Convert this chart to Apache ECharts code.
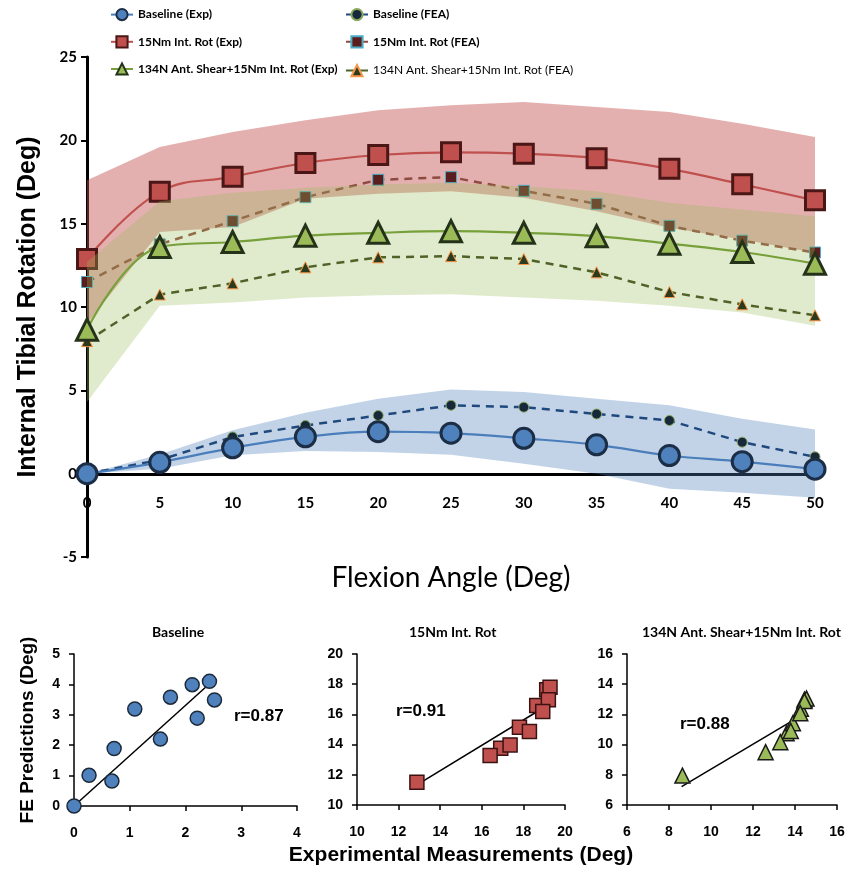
<!DOCTYPE html>
<html>
<head>
<meta charset="utf-8">
<title>Internal tibial rotation</title>
<script src="https://cdn.jsdelivr.net/npm/echarts@6/dist/echarts.min.js"></script>
<style>
  html, body { margin: 0; padding: 0; background: #fff; }
  #chart { width: 849px; height: 873px; }
</style>
</head>
<body>
<div id="chart"></div>
<script>
  // flexion angles (deg)
  var flexion = [0, 5, 10, 15, 20, 25, 30, 35, 40, 45, 50];

  // internal tibial rotation (deg), mean curves
  var baseExp = [0, 0.68, 1.55, 2.21, 2.52, 2.43, 2.12, 1.73, 1.09, 0.72, 0.27];
  var baseFea = [0, 0.82, 2.2, 2.89, 3.49, 4.1, 3.99, 3.58, 3.19, 1.89, 1.01];
  var rotExp = [12.88, 16.91, 17.81, 18.64, 19.12, 19.28, 19.2, 18.93, 18.29, 17.36, 16.4];
  var rotFea = [11.5, 13.76, 15.15, 16.59, 17.63, 17.79, 16.97, 16.19, 14.87, 13.98, 13.27];
  var shearExp = [8.64, 13.6, 13.9, 14.28, 14.45, 14.55, 14.45, 14.25, 13.8, 13.3, 12.6];
  var shearFea = [7.95, 10.75, 11.42, 12.38, 12.98, 13.05, 12.88, 12.08, 10.9, 10.16, 9.5];

  // experimental spread (shaded bands)
  var baseUpper = [0, 1.15, 2.6, 3.65, 4.5, 5.05, 4.9, 4.5, 4.1, 3.3, 2.65];
  var baseLower = [0, 0.3, 1.1, 1.36, 1.3, 1.14, 0.6, 0, -0.9, -1.14, -1.45];
  var rotUpper = [17.6, 19.6, 20.5, 21.2, 21.8, 22.1, 22.3, 22.0, 21.7, 21.0, 20.2];
  var rotLower = [9.0, 14.5, 14.8, 16.5, 16.8, 16.95, 16.55, 15.75, 14.75, 14.05, 13.26];
  var shearUpper = [12.7, 16.35, 16.85, 17.15, 17.35, 17.45, 17.25, 16.95, 16.25, 15.85, 15.45];
  var shearLower = [4.3, 10.07, 10.27, 10.57, 10.7, 10.77, 10.57, 10.37, 10.07, 9.67, 8.87];

  // fitted lines of the correlation plots (end points)
  var baseFitX = [0, 2.41];
  var baseFitY = [0, 3.99];
  var rotFitX = [12.88, 19.2];
  var rotFitY = [11.33, 16.64];
  var shearFitX = [8.6, 14.09];
  var shearFitY = [7.22, 11.75];

  var labelFont = 'Lato';
  var arial = '"Liberation Sans", Arial, sans-serif';

  function pairs(xs, ys) {
    return xs.map(function (x, i) { return [x, ys[i]]; });
  }

  // shaded band between low and up, one polygon through the axis scales
  function band(up, low, color, z) {
    return {
      type: 'custom', z: z, silent: true,
      data: flexion.map(function (x, i) { return [x, low[i], up[i]]; }),
      encode: { x: 0, y: [1, 2] },
      renderItem: function (params, api) {
        if (params.dataIndex !== 0) return null;
        var pts = [];
        for (var i = 0; i < flexion.length; i++) pts.push(api.coord([flexion[i], up[i]]));
        for (var j = flexion.length - 1; j >= 0; j--) pts.push(api.coord([flexion[j], low[j]]));
        return { type: 'polygon', shape: { points: pts }, style: { fill: color } };
      }
    };
  }

  var myChart = echarts.init(document.getElementById('chart'));

  var series = [
    band(rotUpper, rotLower, 'rgba(192,80,77,0.45)', 2),
    {
      type: 'line', name: '15Nm Int. Rot (FEA)', z: 2, data: pairs(flexion, rotFea),
      symbol: 'rect', symbolSize: 11,
      lineStyle: { color: '#8e4a40', width: 2.5, type: [8, 6] },
      itemStyle: { color: '#5a1e1e', borderColor: '#4bacc6', borderWidth: 1 }
    },
    {
      type: 'line', name: '15Nm Int. Rot (Exp)', z: 2, data: pairs(flexion, rotExp),
      smooth: 0.4, symbol: 'rect', symbolSize: 19,
      lineStyle: { color: '#c0504d', width: 2.2 },
      itemStyle: { color: '#c0504d', borderColor: '#4a1616', borderWidth: 3 }
    },
    band(shearUpper, shearLower, 'rgba(155,187,89,0.31)', 3),
    {
      type: 'line', name: '134N Ant. Shear+15Nm Int. Rot (FEA)', z: 3, data: pairs(flexion, shearFea),
      symbol: 'triangle', symbolSize: 11,
      lineStyle: { color: '#4f6228', width: 2.5, type: [8, 6] },
      itemStyle: { color: '#2c3a1e', borderColor: '#f79646', borderWidth: 1 }
    },
    {
      type: 'line', name: '134N Ant. Shear+15Nm Int. Rot (Exp)', z: 3, data: pairs(flexion, shearExp),
      smooth: 0.4, symbol: 'triangle', symbolSize: 21,
      lineStyle: { color: '#77a03a', width: 2.2 },
      itemStyle: { color: '#9bbb59', borderColor: '#25321a', borderWidth: 3 }
    },
    band(baseUpper, baseLower, 'rgba(79,129,189,0.35)', 4),
    {
      type: 'line', name: 'Baseline (FEA)', z: 4, data: pairs(flexion, baseFea),
      symbol: 'circle', symbolSize: 10,
      lineStyle: { color: '#1f497d', width: 2.5, type: [8, 6] },
      itemStyle: { color: '#17283b', borderColor: '#8aa860', borderWidth: 1 }
    },
    {
      type: 'line', name: 'Baseline (Exp)', z: 4, data: pairs(flexion, baseExp),
      smooth: 0.4, symbol: 'circle', symbolSize: 20,
      lineStyle: { color: '#4a7ebb', width: 2.2 },
      itemStyle: { color: '#4f81bd', borderColor: '#1c2e45', borderWidth: 3 }
    },
    // correlation plots
    {
      type: 'scatter', xAxisIndex: 1, yAxisIndex: 1, data: pairs(baseExp, baseFea),
      symbol: 'circle', symbolSize: 14, z: 5,
      itemStyle: { color: '#4f81bd', borderColor: '#1d2a3a', borderWidth: 1.5, opacity: 1 }
    },
    {
      type: 'line', xAxisIndex: 1, yAxisIndex: 1, data: pairs(baseFitX, baseFitY),
      symbol: 'none', z: 4, lineStyle: { color: '#000', width: 1.5 }
    },
    {
      type: 'scatter', xAxisIndex: 2, yAxisIndex: 2, data: pairs(rotExp, rotFea),
      symbol: 'rect', symbolSize: 14, z: 5,
      itemStyle: { color: '#c0504d', borderColor: '#3b1212', borderWidth: 1.5, opacity: 1 }
    },
    {
      type: 'line', xAxisIndex: 2, yAxisIndex: 2, data: pairs(rotFitX, rotFitY),
      symbol: 'none', z: 4, lineStyle: { color: '#000', width: 1.5 }
    },
    {
      type: 'scatter', xAxisIndex: 3, yAxisIndex: 3, data: pairs(shearExp, shearFea),
      symbol: 'triangle', symbolSize: 15, z: 5,
      itemStyle: { color: '#9bbb59', borderColor: '#1a1a1a', borderWidth: 1.5, opacity: 1 }
    },
    {
      type: 'line', xAxisIndex: 3, yAxisIndex: 3, data: pairs(shearFitX, shearFitY),
      symbol: 'none', z: 4, lineStyle: { color: '#000', width: 1.5 }
    }
  ];

  var legendText = { fontFamily: labelFont, fontWeight: 'bold', fontSize: 12, color: '#000' };

  function smallX(idx, min, max, interval, extra) {
    return Object.assign({
      type: 'value', gridIndex: idx, min: min, max: max, interval: interval,
      axisLine: { onZero: false, lineStyle: { color: '#000', width: 1.5 } },
      axisTick: { show: true, length: 5, lineStyle: { color: '#000', width: 1.5 } },
      axisLabel: { color: '#000', fontFamily: arial, fontWeight: 'bold', fontSize: 14, margin: 20 },
      splitLine: { show: false }
    }, extra || {});
  }
  function smallY(idx, min, max, interval, extra) {
    return Object.assign({
      type: 'value', gridIndex: idx, min: min, max: max, interval: interval,
      axisLine: { show: true, onZero: false, lineStyle: { color: '#000', width: 1.5 } },
      axisTick: { show: true, length: 5, lineStyle: { color: '#000', width: 1.5 } },
      axisLabel: { color: '#000', fontFamily: arial, fontWeight: 'bold', fontSize: 14, margin: 14 },
      splitLine: { show: false }
    }, extra || {});
  }

  myChart.setOption({
    animation: false,
    legend: [
      {
        left: 110, top: 8, orient: 'vertical', padding: 0, itemGap: 14,
        itemWidth: 22, itemHeight: 14, selectedMode: false, textStyle: legendText,
        data: ['Baseline (Exp)', '15Nm Int. Rot (Exp)', '134N Ant. Shear+15Nm Int. Rot (Exp)']
      },
      {
        left: 345, top: 8, orient: 'vertical', padding: 0, itemGap: 14,
        itemWidth: 22, itemHeight: 14, selectedMode: false, textStyle: legendText,
        data: ['Baseline (FEA)', '15Nm Int. Rot (FEA)']
      },
      {
        left: 345, top: 64, orient: 'vertical', padding: 0,
        itemWidth: 22, itemHeight: 14, selectedMode: false,
        textStyle: { fontFamily: labelFont, fontSize: 12, color: '#000' },
        data: ['134N Ant. Shear+15Nm Int. Rot (FEA)']
      }
    ],
    grid: [
      { left: 87, top: 57, width: 728, height: 500 },
      { left: 74, top: 654, width: 223, height: 152 },
      { left: 357, top: 654, width: 208, height: 151 },
      { left: 627, top: 654, width: 210, height: 151 }
    ],
    xAxis: [
      {
        // drawn along the zero line: offset from the grid bottom (value -5) up to 0
        type: 'value', gridIndex: 0, min: 0, max: 50, interval: 5, offset: -83,
        axisLine: { onZero: false, lineStyle: { color: '#000', width: 3 } },
        axisTick: { show: false },
        axisLabel: { color: '#000', fontFamily: labelFont, fontWeight: 'bold', fontSize: 15, margin: 22 },
        splitLine: { show: false },
        name: 'Flexion Angle (Deg)', nameLocation: 'middle', nameGap: 90,
        nameTextStyle: { fontFamily: labelFont, fontSize: 28, color: '#000' }
      },
      smallX(1, 0, 4, 1),
      smallX(2, 10, 20, 2, {
        name: 'Experimental Measurements (Deg)', nameLocation: 'middle', nameGap: 40,
        nameTextStyle: { fontFamily: arial, fontWeight: 'bold', fontSize: 21, color: '#000' }
      }),
      smallX(3, 6, 16, 2)
    ],
    yAxis: [
      {
        type: 'value', gridIndex: 0, min: -5, max: 25, interval: 5,
        axisLine: { show: true, onZero: false, lineStyle: { color: '#000', width: 3 } },
        axisTick: { show: true, length: 6, lineStyle: { color: '#000', width: 2 } },
        axisLabel: { color: '#000', fontFamily: labelFont, fontWeight: 'bold', fontSize: 15, margin: 10 },
        splitLine: { show: false },
        name: 'Internal Tibial Rotation (Deg)', nameLocation: 'middle', nameGap: 46,
        nameTextStyle: { fontFamily: arial, fontWeight: 'bold', fontSize: 25, color: '#000' }
      },
      smallY(1, 0, 5, 1, {
        name: 'FE Predictions (Deg)', nameLocation: 'middle', nameGap: 37,
        nameTextStyle: { fontFamily: arial, fontWeight: 'bold', fontSize: 19, color: '#000' }
      }),
      smallY(2, 10, 20, 2),
      smallY(3, 6, 16, 2)
    ],
    graphic: [
      { type: 'text', left: 152, top: 625, style: { text: 'Baseline', font: 'bold 14px Lato', fill: '#000' } },
      { type: 'text', left: 409, top: 625, style: { text: '15Nm Int. Rot', font: 'bold 14px Lato', fill: '#000' } },
      { type: 'text', left: 642, top: 625, style: { text: '134N Ant. Shear+15Nm Int. Rot', font: 'bold 14px Lato', fill: '#000' } },
      { type: 'text', left: 234, top: 708, style: { text: 'r=0.87', font: 'bold 17px "Liberation Sans"', fill: '#000' } },
      { type: 'text', left: 396, top: 703, style: { text: 'r=0.91', font: 'bold 17px "Liberation Sans"', fill: '#000' } },
      { type: 'text', left: 680, top: 716, style: { text: 'r=0.88', font: 'bold 17px "Liberation Sans"', fill: '#000' } }
    ],
    series: series
  });
  window.onresize = myChart.resize;
</script>
</body>
</html>
